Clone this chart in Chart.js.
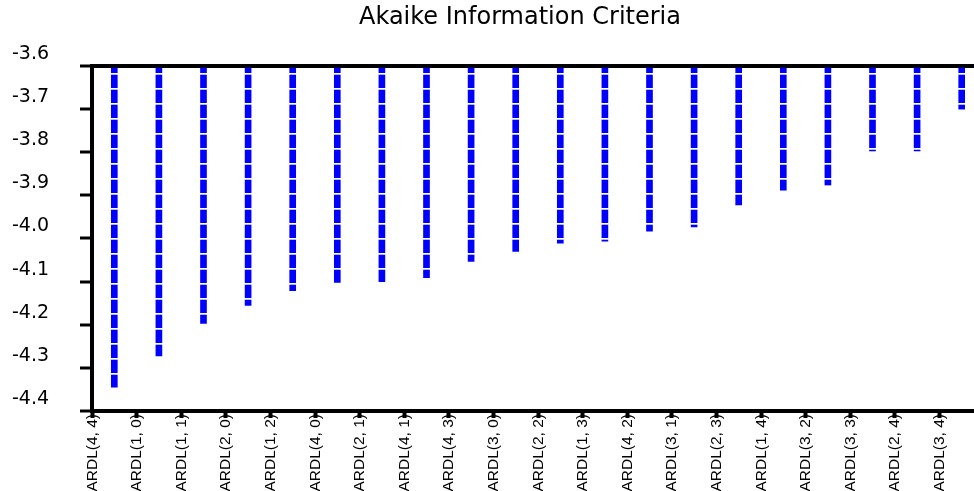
<!DOCTYPE html>
<html>
<head>
<meta charset="utf-8">
<title>Akaike Information Criteria</title>
<script src="https://cdn.jsdelivr.net/npm/chart.js@4/dist/chart.umd.min.js"></script>
<style>
  html, body { margin: 0; padding: 0; background: #fff; overflow: hidden; }
  #wrap { width: 984px; height: 491px; }
</style>
</head>
<body>
<div id="wrap"><canvas id="aic" width="984" height="491"></canvas></div>
<script>
// ARDL(p, q) candidate models, ordered from best (lowest AIC) to worst
const models = [
  'ARDL(4, 4)', 'ARDL(1, 0)', 'ARDL(1, 1)', 'ARDL(2, 0)', 'ARDL(1, 2)',
  'ARDL(4, 0)', 'ARDL(2, 1)', 'ARDL(4, 1)', 'ARDL(4, 3)', 'ARDL(3, 0)',
  'ARDL(2, 2)', 'ARDL(1, 3)', 'ARDL(4, 2)', 'ARDL(3, 1)', 'ARDL(2, 3)',
  'ARDL(1, 4)', 'ARDL(3, 2)', 'ARDL(3, 3)', 'ARDL(2, 4)', 'ARDL(3, 4)'
];

// Akaike information criterion for each model
const aicValues = [
  -4.345, -4.272, -4.197, -4.155, -4.121,
  -4.102, -4.100, -4.091, -4.053, -4.030,
  -4.011, -4.006, -3.983, -3.973, -3.922,
  -3.888, -3.876, -3.797, -3.797, -3.700
];

// value axis ticks
const aicTicks = [-4.4, -4.3, -4.2, -4.1, -4.0, -3.9, -3.8, -3.7, -3.6];

const chartTitle = 'Akaike Information Criteria';

// bars hang down from the top of the value axis
const barBase = aicTicks[aicTicks.length - 1];

// dashed blue fill for the bars
function dashedFill() {
  const c = document.createElement('canvas');
  c.width = 1; c.height = 15;
  const g = c.getContext('2d');
  g.fillStyle = '#0000ff';
  g.fillRect(0, 0, 1, 13);
  g.fillStyle = '#ffffff';
  g.fillRect(0, 13, 1, 1);
  g.fillStyle = '#b4b4ff';
  g.fillRect(0, 14, 1, 1);
  return g.createPattern(c, 'repeat');
}

// nudge the title so it sits centred over the graph panel
const titleShift = {
  id: 'titleShift',
  afterLayout(chart) {
    const t = chart.titleBlock;
    if (t) { t.left = 56; t.right = 984; }
  }
};

const ctx = document.getElementById('aic');
new Chart(ctx, {
  type: 'bar',
  data: {
    labels: models,
    datasets: [{
      data: aicValues,
      base: barBase,
      backgroundColor: dashedFill(),
      borderWidth: 0,
      barThickness: 6
    }]
  },
  options: {
    responsive: false,
    animation: false,
    devicePixelRatio: 1,
    layout: { padding: { left: 12, right: 0, top: 0, bottom: 0 } },
    plugins: {
      legend: { display: false },
      tooltip: { enabled: false },
      title: {
        display: true,
        text: chartTitle,
        color: '#000',
        font: { family: "'DejaVu Sans', sans-serif", size: 24, weight: 'normal', lineHeight: 1 },
        padding: { top: 6, bottom: 36 }
      }
    },
    scales: {
      x: {
        z: 1,
        offset: true,
        grid: {
          offset: true,
          drawOnChartArea: false,
          drawTicks: true,
          tickLength: 7,
          tickWidth: 4,
          tickColor: '#000'
        },
        border: { display: true, color: '#000', width: 4 },
        ticks: {
          autoSkip: false,
          minRotation: 90,
          maxRotation: 90,
          labelOffset: -22,
          padding: -4,
          color: '#000',
          font: { family: "'Liberation Sans', Arial, sans-serif", size: 15.5 }
        },
        afterFit(scale) { scale.height = 80; }
      },
      y: {
        z: 1,
        min: aicTicks[0],
        max: aicTicks[aicTicks.length - 1],
        afterBuildTicks(scale) {
          scale.ticks = aicTicks.map(v => ({ value: v }));
        },
        afterFit(scale) { scale.width = 80; },
        grid: {
          drawOnChartArea: true,
          color: c => (c.tick && Math.abs(c.tick.value - barBase) < 1e-9) ? '#000' : 'rgba(0,0,0,0)',
          lineWidth: 4,
          tickLength: 12,
          tickWidth: 3,
          tickColor: '#000'
        },
        border: { display: true, color: '#000', width: 4 },
        ticks: {
          crossAlign: 'far',
          labelOffset: -12,
          color: '#000',
          font: { family: "'DejaVu Sans', sans-serif", size: 19 },
          callback: v => Number(v).toFixed(1)
        }
      }
    }
  },
  plugins: [titleShift]
});
</script>
</body>
</html>
